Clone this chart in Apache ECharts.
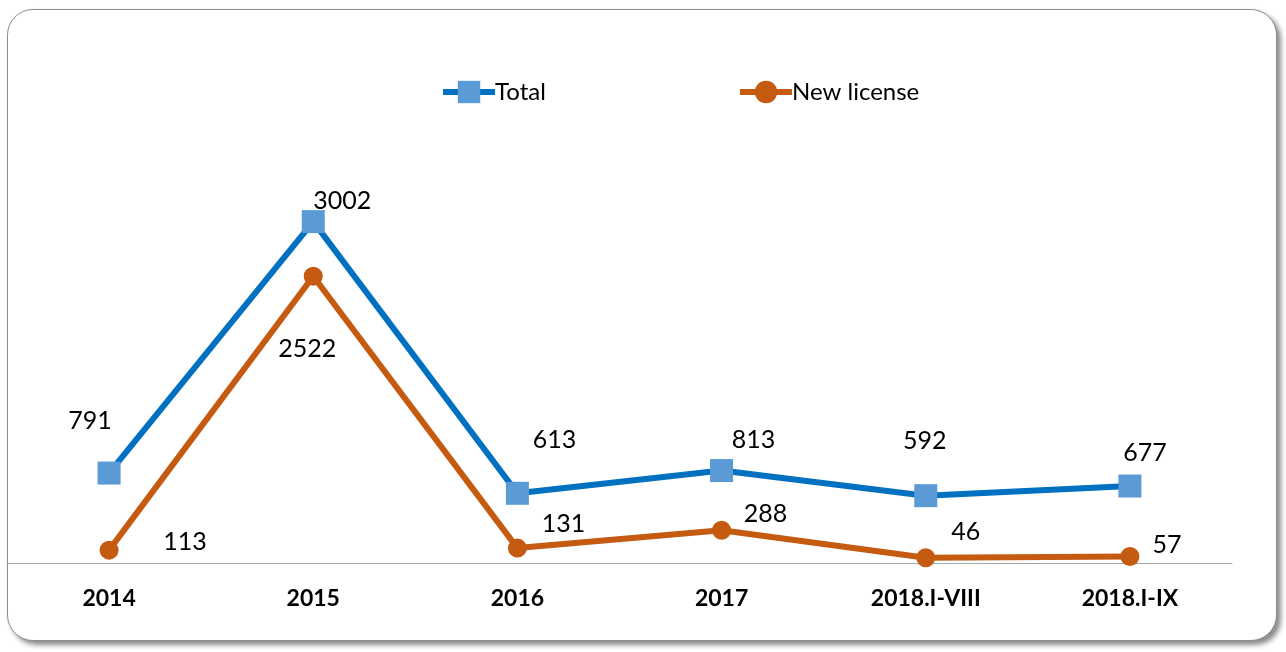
<!DOCTYPE html>
<html>
<head>
<meta charset="utf-8">
<script src="https://cdn.jsdelivr.net/npm/echarts@6/dist/echarts.min.js"></script>
<style>
    html, body { margin: 0; padding: 0; background: #fff; }
    #frame {
        position: absolute; left: 7px; top: 9px; width: 1268px; height: 630px;
        border: 1px solid #8c8c8c; border-radius: 26px;
        box-shadow: 4px 4px 5px rgba(0, 0, 0, 0.45);
        background: #fff;
    }
    #main { position: absolute; left: 0; top: 0; width: 1286px; height: 652px; }
</style>
</head>
<body>
<div id="frame"></div>
<div id="main"></div>
<script>
    const categories = ["2014", "2015", "2016", "2017", "2018.I-VIII", "2018.I-IX"];
    const totalValues = [791, 3002, 613, 813, 592, 677];
    const newLicenseValues = [113, 2522, 131, 288, 46, 57];

    // label offsets (Excel-style manual placement)
    const totalOffsets = [[-19, -52], [29, -21], [37, -53], [32, -31], [-1, -55], [15, -33]];
    const newOffsets = [[76, -8], [-6, 73], [46, -24], [44, -16], [40, -26], [37, -12]];

    const font = "Lato, 'Noto Sans', sans-serif";

    function withLabels(values, offsets) {
        return values.map((v, i) => ({
            value: v,
            label: { offset: offsets[i] }
        }));
    }

    function legendAt(name, left) {
        return {
            top: 80,
            left: left,
            padding: 0,
            itemWidth: 52,
            itemHeight: 28,
            lineStyle: { width: 6 },
            textStyle: { color: "#000", fontSize: 24, fontFamily: font, padding: [0, 0, 0, -5] },
            data: [name]
        };
    }

    const chart = echarts.init(document.getElementById("main"));
    const option = {
        animation: false,
        backgroundColor: "transparent",
        legend: [legendAt("Total", 440), legendAt("New license", 737)],
        grid: { left: 7, right: 54, top: 165, bottom: 89 },
        xAxis: {
            type: "category",
            data: categories,
            axisLine: { lineStyle: { color: "#a6a6a6", width: 1 } },
            axisTick: { show: false },
            axisLabel: { color: "#000", fontSize: 23, fontWeight: "bold", fontFamily: font, margin: 24 }
        },
        yAxis: {
            type: "value",
            min: 0,
            max: 3500,
            show: false
        },
        series: [
            {
                name: "Total",
                type: "line",
                symbol: "rect",
                symbolSize: 23,
                lineStyle: { color: "#0070c0", width: 6 },
                itemStyle: { color: "#5b9bd5" },
                label: {
                    show: true, position: "inside",
                    color: "#000", fontSize: 25, fontFamily: font
                },
                data: withLabels(totalValues, totalOffsets)
            },
            {
                name: "New license",
                type: "line",
                symbol: "circle",
                symbolSize: 19,
                lineStyle: { color: "#c55a11", width: 6 },
                itemStyle: { color: "#c55a11" },
                label: {
                    show: true, position: "inside",
                    color: "#000", fontSize: 25, fontFamily: font
                },
                data: withLabels(newLicenseValues, newOffsets)
            }
        ]
    };
    chart.setOption(option);
</script>
</body>
</html>
